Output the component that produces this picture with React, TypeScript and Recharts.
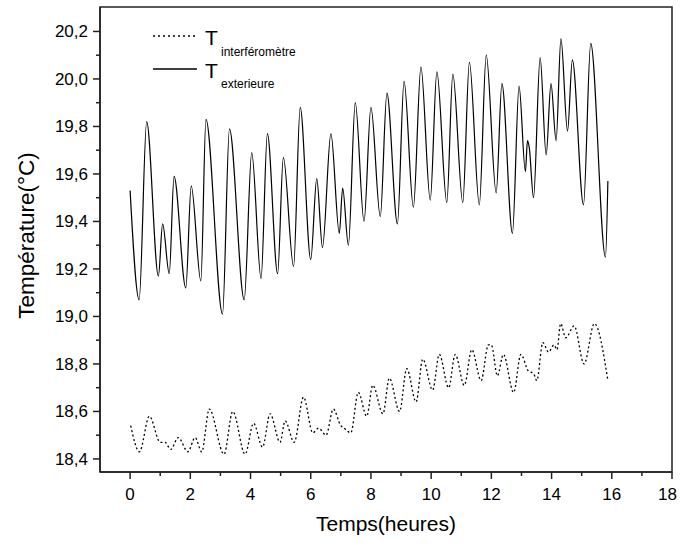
import React from 'react';
import { LineChart, Line, XAxis, YAxis, ReferenceArea, Legend } from 'recharts';

// T exterieure (solid)
const extTimes = [
  0.0, 0.3, 0.55, 0.94, 1.08, 1.3, 1.46, 1.85, 2.03, 2.35, 2.52, 3.07, 3.3, 3.79, 4.04, 4.35, 4.56, 4.9,
  5.09, 5.43, 5.65, 6.0, 6.2, 6.39, 6.67, 6.95, 7.06, 7.25, 7.48, 7.77, 8.0, 8.31, 8.53, 8.88, 9.1, 9.41,
  9.66, 9.97, 10.19, 10.52, 10.72, 11.05, 11.27, 11.6, 11.83, 12.16, 12.35, 12.7, 12.92, 13.13, 13.2,
  13.26, 13.4, 13.62, 13.82, 13.98, 14.15, 14.31, 14.53, 14.69, 15.06, 15.3, 15.79, 15.87,
];
const extValues = [
  19.53, 19.07, 19.82, 19.17, 19.39, 19.18, 19.59, 19.12, 19.55, 19.15, 19.83, 19.01, 19.79, 19.07, 19.69,
  19.16, 19.77, 19.18, 19.67, 19.21, 19.88, 19.24, 19.58, 19.29, 19.77, 19.35, 19.54, 19.3, 19.9, 19.4,
  19.88, 19.42, 19.94, 19.39, 19.99, 19.46, 20.05, 19.49, 20.03, 19.48, 20.02, 19.48, 20.07, 19.47, 20.1,
  19.52, 19.98, 19.35, 19.97, 19.61, 19.74, 19.71, 19.5, 20.09, 19.68, 19.98, 19.74, 20.17, 19.78, 20.08,
  19.47, 20.15, 19.25, 19.57,
];

// T interféromètre (dotted)
const intTimes = [
  0.02, 0.31, 0.64, 1.0, 1.16, 1.35, 1.6, 1.92, 2.16, 2.38, 2.63, 3.12, 3.41, 3.82, 4.1, 4.4, 4.65, 4.98,
  5.15, 5.45, 5.76, 6.07, 6.26, 6.51, 6.75, 7.0, 7.1, 7.33, 7.58, 7.86, 8.06, 8.4, 8.61, 8.95, 9.19, 9.5,
  9.72, 10.05, 10.27, 10.58, 10.8, 11.1, 11.35, 11.66, 11.9, 12.0, 12.2, 12.4, 12.74, 12.98, 13.23, 13.4,
  13.51, 13.71, 13.9, 14.08, 14.18, 14.3, 14.47, 14.75, 15.08, 15.42, 15.87,
];
const intValues = [
  18.54, 18.43, 18.58, 18.47, 18.47, 18.44, 18.49, 18.43, 18.49, 18.43, 18.61, 18.42, 18.6, 18.42, 18.55,
  18.45, 18.59, 18.47, 18.56, 18.47, 18.66, 18.51, 18.53, 18.5, 18.61, 18.54, 18.53, 18.51, 18.68, 18.58,
  18.71, 18.59, 18.74, 18.6, 18.78, 18.64, 18.82, 18.69, 18.84, 18.7, 18.84, 18.71, 18.86, 18.73, 18.88,
  18.88, 18.75, 18.84, 18.68, 18.84, 18.77, 18.76, 18.73, 18.89, 18.85, 18.88, 18.86, 18.97, 18.91, 18.96,
  18.8, 18.97, 18.73,
];

const xMajorTicks = [0, 2, 4, 6, 8, 10, 12, 14, 16, 18];
const xMinorTicks = [1, 3, 5, 7, 9, 11, 13, 15, 17];
const yMajorTicks = [18.4, 18.6, 18.8, 19.0, 19.2, 19.4, 19.6, 19.8, 20.0, 20.2];
const yMinorTicks = [18.5, 18.7, 18.9, 19.1, 19.3, 19.5, 19.7, 19.9, 20.1];

const xDomain: [number, number] = [-1, 18];
const yDomain: [number, number] = [18.345, 20.303];

const extData = extTimes.map((t, i) => ({ t, v: extValues[i] }));
const intData = intTimes.map((t, i) => ({ t, v: intValues[i] }));

const FONT = '"Liberation Sans", Arial, Helvetica, sans-serif';
const AXIS = '#222';

const isIn = (arr: number[], v: number) => arr.some((a) => Math.abs(a - v) < 1e-6);

const XTick = (props: any) => {
  const { x, y, payload } = props;
  const major = isIn(xMajorTicks, payload.value);
  const last = Math.abs(payload.value - xMajorTicks[xMajorTicks.length - 1]) < 1e-6;
  return (
    <g>
      <line x1={x} y1={y} x2={x} y2={y + (major ? 7 : 4)} stroke={AXIS} strokeWidth={1.5} />
      {major && (
        <text
          x={last ? x + 5 : x}
          y={y + 28}
          textAnchor={last ? 'end' : 'middle'}
          fontSize={17}
          fontFamily={FONT}
          fill="#000"
        >
          {String(payload.value)}
        </text>
      )}
    </g>
  );
};

const YTick = (props: any) => {
  const { x, y, payload } = props;
  const major = isIn(yMajorTicks, payload.value);
  return (
    <g>
      <line x1={x} y1={y} x2={x - (major ? 7 : 4)} y2={y} stroke={AXIS} strokeWidth={1.5} />
      {major && (
        <text x={x - 12} y={y + 6} textAnchor="end" fontSize={17} fontFamily={FONT} fill="#000">
          {Number(payload.value).toFixed(1).replace('.', ',')}
        </text>
      )}
    </g>
  );
};

const renderLegend = () => (
  <svg width={180} height={75} style={{ display: 'block', overflow: 'visible' }}>
    <line x1={3} y1={16} x2={47} y2={16} stroke="#000" strokeWidth={1.3} strokeDasharray="2 3" />
    <text x={55} y={25} fontSize={21} fontFamily={FONT} fill="#000">T</text>
    <text x={71} y={36} fontSize={12} fontFamily={FONT} fill="#000">interféromètre</text>
    <line x1={3} y1={49} x2={47} y2={49} stroke="#000" strokeWidth={1.3} />
    <text x={55} y={58} fontSize={21} fontFamily={FONT} fill="#000">T</text>
    <text x={71} y={68} fontSize={12} fontFamily={FONT} fill="#000">exterieure</text>
  </svg>
);

const XLabel = (props: any) => {
  const vb = props.viewBox || {};
  return (
    <text x={vb.x + vb.width / 2} y={vb.y + 59} textAnchor="middle" fontSize={21} fontFamily={FONT} fill="#000">
      Temps(heures)
    </text>
  );
};

const YLabel = (props: any) => {
  const vb = props.viewBox || {};
  const cx = 34;
  const cy = vb.y + vb.height / 2 - 4;
  return (
    <text
      x={cx}
      y={cy}
      transform={`rotate(-90, ${cx}, ${cy})`}
      textAnchor="middle"
      fontSize={22.5}
      fontFamily={FONT}
      fill="#000"
    >
      Température(°C)
    </text>
  );
};

export default function App() {
  return (
    <div style={{ position: 'absolute', left: 0, top: 0, background: '#fff' }}>
      <LineChart width={680} height={546} margin={{ top: 7, right: 8, bottom: 0, left: 0 }}>
        <XAxis
          dataKey="t"
          type="number"
          domain={xDomain}
          ticks={[...xMajorTicks, ...xMinorTicks].sort((a, b) => a - b)}
          allowDataOverflow
          height={74}
          tickSize={0}
          tickMargin={0}
          tickLine={false}
          tick={<XTick />}
          axisLine={{ stroke: AXIS, strokeWidth: 1.5 }}
          interval={0}
          label={<XLabel />}
        />
        <YAxis
          dataKey="v"
          type="number"
          domain={yDomain}
          ticks={[...yMajorTicks, ...yMinorTicks].sort((a, b) => a - b)}
          allowDataOverflow
          width={100}
          tickSize={0}
          tickMargin={0}
          tickLine={false}
          tick={<YTick />}
          axisLine={{ stroke: AXIS, strokeWidth: 1.5 }}
          interval={0}
          label={<YLabel />}
        />
        <ReferenceArea
          x1={xDomain[0]}
          x2={xDomain[1]}
          y1={yDomain[0]}
          y2={yDomain[1]}
          fill="none"
          fillOpacity={0}
          stroke={AXIS}
          strokeWidth={1.5}
          ifOverflow="visible"
        />
        <Line
          data={extData}
          dataKey="v"
          type="monotone"
          stroke="#000"
          strokeWidth={1.2}
          dot={false}
          isAnimationActive={false}
          name="T exterieure"
        />
        <Line
          data={intData}
          dataKey="v"
          type="monotone"
          stroke="#000"
          strokeWidth={1.3}
          strokeDasharray="2 2.5"
          dot={false}
          isAnimationActive={false}
          name="T interféromètre"
        />
        <Legend
          layout="vertical"
          align="center"
          verticalAlign="middle"
          content={renderLegend}
          wrapperStyle={{ left: 150, top: 20, width: 180, height: 75 }}
        />
      </LineChart>
    </div>
  );
}
